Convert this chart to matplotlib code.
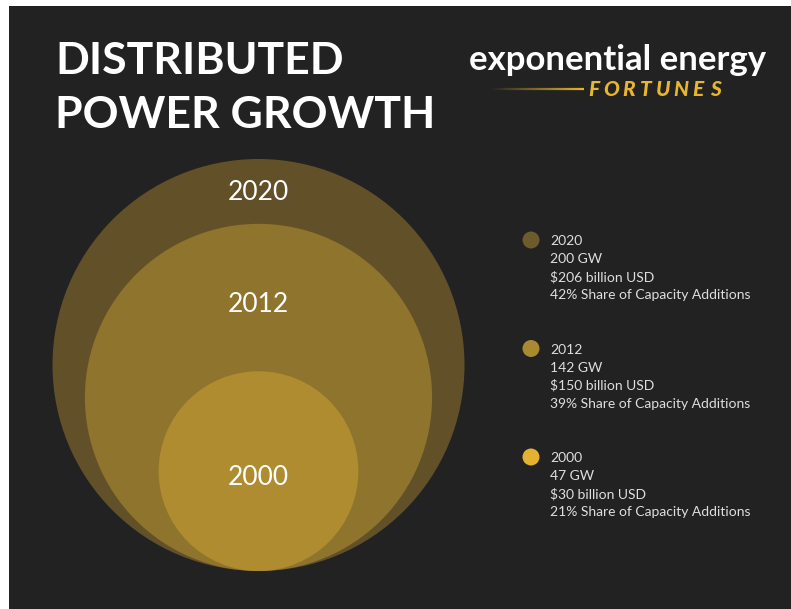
import numpy as np
import matplotlib
matplotlib.use("Agg")
import matplotlib.pyplot as plt
from matplotlib.patches import Circle, Rectangle
from matplotlib.collections import LineCollection

# ---- data ----
years = ["2020", "2012", "2000"]
capacity_gw = [200, 142, 47]
investment_busd = [206, 150, 30]
share_pct = [42, 39, 21]

circle_colors = ["#625128", "#8f742d", "#b08c30"]
dot_colors = ["#6e5b2c", "#a98a30", "#e3b230"]

title_lines = ["DISTRIBUTED", "POWER GROWTH"]
brand_top = "exponential energy"
brand_bottom = "FORTUNES"

BG = "#222222"
W, H = 791, 609

fig = plt.figure(figsize=(W / 100, H / 100), dpi=100)
fig.patch.set_facecolor("white")
ax = fig.add_axes([0, 0, 1, 1])
ax.set_xlim(0, W)
ax.set_ylim(H, 0)
ax.axis("off")

ax.add_patch(Rectangle((9, 6), W - 9, H - 6, facecolor=BG, edgecolor="none", zorder=0))

# ---- title ----
ax.text(55, 61, title_lines[0], color="white", fontsize=32, fontfamily="Lato",
        fontweight="bold", va="center", ha="left")
ax.text(55, 115, title_lines[1], color="white", fontsize=32, fontfamily="Lato",
        fontweight="bold", va="center", ha="left")

# ---- brand ----
ax.text(618, 60, brand_top, color="white", fontsize=25, fontfamily="Lato",
        fontweight="bold", va="center", ha="center")
fx0, fstep = 594, 17.4
for i, ch in enumerate(brand_bottom):
    ax.text(fx0 + i * fstep, 89, ch, color="#e8b62c", fontsize=15, fontfamily="Lato",
            fontweight="black", fontstyle="italic", va="center", ha="center")
xs = np.linspace(490, 584, 60)
segs = [[(xs[i], 89), (xs[i + 1], 89)] for i in range(len(xs) - 1)]
alphas = np.linspace(0.0, 1.0, len(segs))
cols = [(0.91, 0.71, 0.17, a) for a in alphas]
ax.add_collection(LineCollection(segs, colors=cols, linewidths=1.6))

# ---- nested circles (radius ~ sqrt(capacity)) ----
cx, bottom, rmax = 258.5, 571, 206
gmax = max(capacity_gw)
label_dy = [34, 81, None]
for i, (yr, gw) in enumerate(zip(years, capacity_gw)):
    r = rmax * np.sqrt(gw / gmax)
    cy = bottom - r
    ax.add_patch(Circle((cx, cy), r, facecolor=circle_colors[i], edgecolor="none", zorder=1 + i))
    ly = cy - r + label_dy[i] if label_dy[i] is not None else cy + 6
    ax.text(cx, ly, yr, color="white", fontsize=19, fontfamily="Lato",
            va="center", ha="center", zorder=10)

# ---- legend ----
for i, yr in enumerate(years):
    y0 = 240 + i * 108.5
    ax.add_patch(Circle((531, y0), 8.5, facecolor=dot_colors[i], edgecolor="none", zorder=5))
    lines = [yr, f"{capacity_gw[i]} GW", f"${investment_busd[i]} billion USD",
             f"{share_pct[i]}% Share of Capacity Additions"]
    for j, s in enumerate(lines):
        ax.text(550, y0 + 1 + j * 18, s, color="#dedede", fontsize=10, fontfamily="Lato",
                va="center", ha="left")

fig.savefig("out.png", dpi=100, facecolor=fig.get_facecolor())
